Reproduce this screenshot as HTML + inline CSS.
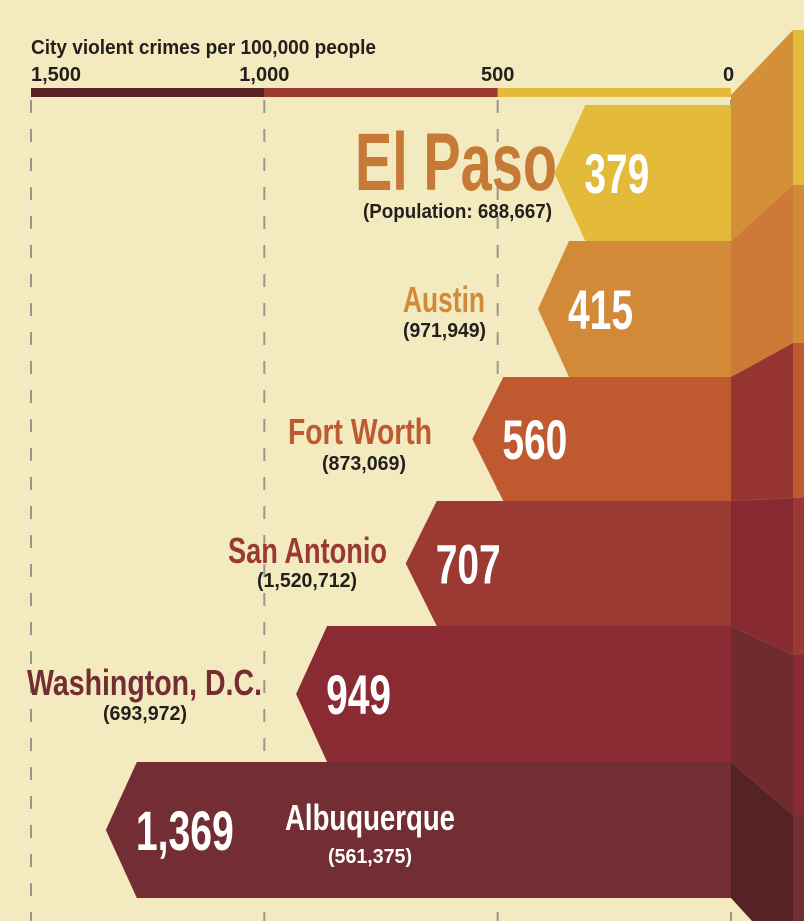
<!DOCTYPE html>
<html><head><meta charset="utf-8"><style>
html,body{margin:0;padding:0;background:#f4eac0;}
svg{display:block;font-family:"Liberation Sans Narrow","Liberation Sans",sans-serif;font-weight:bold;}
</style></head><body>
<svg id="chart" width="804" height="921" viewBox="0 0 804 921" xmlns="http://www.w3.org/2000/svg">
<rect width="804" height="921" fill="#f4eac0"/>
<text x="31" y="54" font-size="20" fill="#231f1c" textLength="345" lengthAdjust="spacingAndGlyphs">City violent crimes  per 100,000 people</text>
<g id="axis"></g>
<g id="sides"></g>
<g id="bars"></g>
<g id="labels"></g>
</svg>
<script>
const cities = ["El Paso","Austin","Fort Worth","San Antonio","Washington, D.C.","Albuquerque"];
const crimes = [379,415,560,707,949,1369];
const valueLabels = ["379","415","560","707","949","1,369"];
const pops = ["(Population: 688,667)","(971,949)","(873,069)","(1,520,712)","(693,972)","(561,375)"];
const ticks = [0,500,1000,1500];
const tickLabels = ["0","500","1,000","1,500"];

const NS="http://www.w3.org/2000/svg";
function mk(tag,attrs,parent){const e=document.createElementNS(NS,tag);for(const k in attrs)e.setAttribute(k,attrs[k]);parent.appendChild(e);return e;}
const xScale=v=>731-v*(700/1500);
const tipX=v=>726-0.453*v;
const rowTop=[105,241,377,501,626,762];
const rowBot=[241,377,501,626,762,898];
const barCols=["#e4ba3b","#d28a38","#bf5a30","#9a3a32","#8a2b33","#722e33"];
const faceCols=["#d49038","#cc7a35","#963530","#872a32","#6f2b2e","#552226"];
const rightY=[30,185,343,498,655,815,921];
const axisG=document.getElementById('axis');
const segCols=["#e4ba3b","#9a3a32","#5a2226"];
for(let i=0;i<3;i++){
  const r=mk('rect',{x:xScale(ticks[i+1]),y:88,width:xScale(ticks[i])-xScale(ticks[i+1]),height:9,fill:segCols[i]},axisG);
  
  
}
ticks.forEach((t,i)=>{
  const x=xScale(t);
  const l=mk('line',{x1:x,y1:100,x2:x,y2:921,stroke:"#9a968c","stroke-width":2,"stroke-dasharray":"13 16"},axisG);
  
  
  const tx=mk('text',{x:i==3?x:(i==0?x-8:x),y:81,"font-size":20,fill:"#231f1c","text-anchor":(i==0||i==3)?"start":"middle"},axisG);
  tx.textContent=tickLabels[i];
  
  
});
const sidesG=document.getElementById('sides');
for(let i=0;i<6;i++){
  const pts = i==5
    ? `731,${rowTop[i]} 793,${rightY[i]} 793,921 752,921 731,898`
    : `731,${i==0?95:rowTop[i]} 793,${rightY[i]} 793,${rightY[i+1]} 731,${rowBot[i]}`;
  const p=mk('polygon',{points:pts,fill:faceCols[i]},sidesG);
  
  
  const s=mk('rect',{x:793,y:rightY[i],width:11,height:rightY[i+1]-rightY[i],fill:barCols[i]},sidesG);
  
  
}
const barsG=document.getElementById('bars');
crimes.forEach((v,i)=>{
  const tip=tipX(v), t=rowTop[i], b=rowBot[i], m=(t+b)/2;
  const p=mk('polygon',{points:`731,${t} ${tip+31},${t} ${tip},${m} ${tip+31},${b} 731,${b}`,fill:barCols[i]},barsG);
  
  
  const vt=mk('text',{x:tip+30,y:m+20,"font-size":56,fill:"#fff",textLength:valueLabels[i].length>3?98:65,lengthAdjust:"spacingAndGlyphs"},barsG);
  vt.textContent=valueLabels[i];
  
  
});
const labG=document.getElementById('labels');
const L=[
 {x:355,y:190,w:202,fs:82,c:"#c77a36",px:363,py:218,pw:189},
 {x:403,y:312,w:82,fs:36,c:"#d08a38",px:403,py:337,pw:83},
 {x:288,y:444,w:144,fs:36,c:"#bf5a30",px:322,py:470,pw:84},
 {x:228,y:563,w:159,fs:36,c:"#9a3a32",px:257,py:587,pw:100},
 {x:27,y:695,w:235,fs:36,c:"#722e33",px:103,py:720,pw:84},
 {x:285,y:830,w:170,fs:36,c:"#ffffff",px:328,py:863,pw:84,pc:"#ffffff"}
];
L.forEach((o,i)=>{
  const n=mk('text',{x:o.x,y:o.y,"font-size":o.fs,fill:o.c,textLength:o.w,lengthAdjust:"spacingAndGlyphs"},labG);
  n.textContent=cities[i];
  
  
  const p=mk('text',{x:o.px,y:o.py,"font-size":20,fill:o.pc||"#231f1c",textLength:o.pw,lengthAdjust:"spacingAndGlyphs"},labG);
  p.textContent=pops[i];
  
  
});
</script>
</body></html>
